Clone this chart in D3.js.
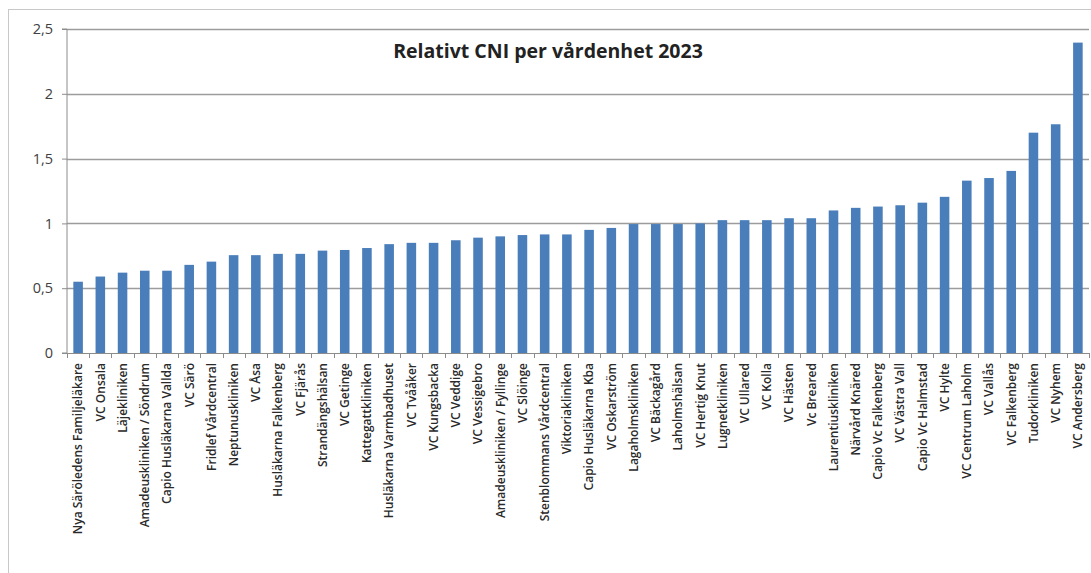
<!DOCTYPE html>
<html>
<head>
<meta charset="utf-8">
<script src="https://cdn.jsdelivr.net/npm/d3@7"></script>
<style>
  body { margin: 0; background: #fff; }
  svg { display: block; font-family: "Open Sans", Lato, sans-serif; }
</style>
</head>
<body>
<div class="canvas"></div>
<script>
// data
const units = [
  'Nya Säröledens Familjeläkare', 'VC Onsala', 'Läjekliniken', 'Amadeuskliniken / Söndrum',
  'Capio Husläkarna Vallda', 'VC Särö', 'Fridlef Vårdcentral', 'Neptunuskliniken', 'VC Åsa',
  'Husläkarna Falkenberg', 'VC Fjärås', 'Strandängshälsan', 'VC Getinge', 'Kattegattkliniken',
  'Husläkarna Varmbadhuset', 'VC Tvååker', 'VC Kungsbacka', 'VC Veddige', 'VC Vessigebro',
  'Amadeuskliniken / Fyllinge', 'VC Slöinge', 'Stenblommans Vårdcentral', 'Viktoriakliniken',
  'Capio Husläkarna Kba', 'VC Oskarström', 'Lagaholmskliniken', 'VC Bäckagård', 'Laholmshälsan',
  'VC Hertig Knut', 'Lugnetkliniken', 'VC Ullared', 'VC Kolla', 'VC Hästen', 'Vc Breared',
  'Laurentiuskliniken', 'Närvård Knäred', 'Capio Vc Falkenberg', 'VC Västra Vall',
  'Capio Vc Halmstad', 'VC Hylte', 'VC Centrum Laholm', 'VC Vallås', 'VC Falkenberg',
  'Tudorkliniken', 'VC Nyhem', 'VC Andersberg'
]
const cni = [
  0.55, 0.59, 0.62, 0.635, 0.635, 0.68, 0.705, 0.755, 0.755, 0.765,
  0.765, 0.79, 0.795, 0.81, 0.84, 0.85, 0.85, 0.87, 0.89, 0.90,
  0.91, 0.915, 0.915, 0.95, 0.965, 0.995, 0.995, 0.995, 1.0, 1.025,
  1.025, 1.025, 1.04, 1.04, 1.10, 1.12, 1.13, 1.14, 1.16, 1.205,
  1.33, 1.35, 1.405, 1.70, 1.765, 2.395
]
const yTicks = [0, 0.5, 1, 1.5, 2, 2.5]
const title = 'Relativt CNI per vårdenhet 2023'

const data = units.map((u, i) => ({ unit: u, value: cni[i] }))

// dimensions
const dimensions = { width: 1091, height: 573 }
const margin = { top: 29, right: 2, bottom: 220, left: 67 }
const graphWidth = dimensions.width - margin.left - margin.right
const graphHeight = dimensions.height - margin.top - margin.bottom

const svg = d3.select('.canvas')
  .append('svg')
  .attr('width', dimensions.width)
  .attr('height', dimensions.height)

// chart border
svg.append('rect')
  .attr('x', 8.5)
  .attr('y', 9.5)
  .attr('width', dimensions.width)
  .attr('height', dimensions.height)
  .attr('fill', 'none')
  .attr('stroke', '#c8c8c8')

const graph = svg.append('g')
  .attr('transform', `translate(${margin.left}, ${margin.top})`)

// scales
const y = d3.scaleLinear()
  .domain([0, 2.5])
  .range([graphHeight, 0])

const x = d3.scaleBand()
  .domain(units)
  .range([0, graphWidth])
  .paddingInner(0.57)
  .paddingOuter(0.285)

// gridlines
graph.append('g')
  .selectAll('line')
  .data(yTicks.filter(d => d > 0))
  .enter()
  .append('line')
  .attr('x1', 0)
  .attr('x2', graphWidth)
  .attr('y1', d => Math.round(y(d)) + 0.5)
  .attr('y2', d => Math.round(y(d)) + 0.5)
  .attr('stroke', '#9c9c9c')
  .attr('stroke-width', 1.4)

// bars
graph.selectAll('rect.bar')
  .data(data)
  .enter()
  .append('rect')
  .attr('class', 'bar')
  .attr('x', d => x(d.unit))
  .attr('width', x.bandwidth())
  .attr('y', d => y(d.value))
  .attr('height', d => graphHeight - y(d.value))
  .attr('fill', '#4a7ebb')

// y axis
const yAxis = d3.axisLeft(y)
  .tickValues(yTicks)
  .tickSize(5)
  .tickPadding(9)
  .tickFormat(d => String(d).replace('.', ','))

const yAxisGroup = graph.append('g').call(yAxis)
yAxisGroup.select('.domain').attr('stroke', '#8c8c8c').attr('d', `M-5,${graphHeight}H0V0H-5`)
yAxisGroup.selectAll('line').attr('stroke', '#8c8c8c')
yAxisGroup.selectAll('text')
  .attr('fill', '#404040')
  .style('font-family', '"Open Sans", sans-serif')
  .style('font-size', '14.5px')

// x axis - ticks between categories
const xAxisGroup = graph.append('g')
  .attr('transform', `translate(0, ${graphHeight})`)

xAxisGroup.append('line')
  .attr('x1', -5).attr('x2', graphWidth)
  .attr('y1', 0.5).attr('y2', 0.5)
  .attr('stroke', '#8c8c8c')

const step = x.step()
xAxisGroup.selectAll('line.tick')
  .data(d3.range(units.length + 1))
  .enter()
  .append('line')
  .attr('class', 'tick')
  .attr('x1', i => Math.round(i * step) + 0.5)
  .attr('x2', i => Math.round(i * step) + 0.5)
  .attr('y1', 0)
  .attr('y2', 5)
  .attr('stroke', '#8c8c8c')

// category labels, rotated
xAxisGroup.selectAll('text')
  .data(units)
  .enter()
  .append('text')
  .attr('transform', d => `translate(${x(d) + x.bandwidth() / 2}, 10) rotate(-90)`)
  .attr('text-anchor', 'end')
  .attr('dy', '0.36em')
  .attr('fill', '#2a2a2a')
  .style('font-size', '12px')
  .style('font-weight', 600)
  .text(d => d)

// title
svg.append('text')
  .attr('x', 548)
  .attr('y', 58)
  .attr('text-anchor', 'middle')
  .attr('fill', '#222')
  .style('font-size', '19.5px')
  .style('font-weight', 'bold')
  .text(title)
</script>
</body>
</html>
